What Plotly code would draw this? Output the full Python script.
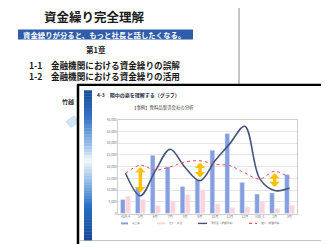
import plotly.graph_objects as go

# ---------------- data ----------------
months = ["H29/4", "5月", "6月", "7月", "8月", "9月", "10月", "11月", "12月", "H30/1", "2月", "3月"]
sales = [6000, 11200, 24800, 19900, 11500, 14500, 27000, 34100, 13300, 8300, 8800, 16700]
purchases = [7400, 6000, 3500, 5300, 8000, 10200, 4100, 2500, 2800, 5100, 2100, 3500]
cash = [17300, 7600, 18200, 27400, 19600, 14000, 22500, 29800, 37200, 14900, 9800, 10900]
loans = [17100, 20600, 18500, 19900, 22000, 22500, 21000, 20400, 17300, 14700, 18000, 15200]
gap_months = ["5月", "9月", "2月"]
y_ticks = list(range(0, 40001, 5000))
y_tick_labels = [f"{v:,}" for v in y_ticks]
series_names = ["売上高", "仕入・外注", "現預金（期首残高）", "借入（期首残高）"]

# ---------------- styles / page geometry ----------------
WIN_W, WIN_H, OFF = 329, 244, 8          # page body has an 8px default margin
W, H = WIN_W - OFF, WIN_H - OFF
C_SALES = "#859FE0"
C_PURCH = "#FFD3DA"
C_CASH = "#44557A"
C_LOAN = "#FF4B4B"
C_ARROW = "#FFC000"
JP = "Noto Sans CJK JP"


def px(x):
    return (x - OFF) / W


def py(y):
    return 1 - (y - OFF) / H


def text(t, x, y, size, color="#1a1a1a", xa="center", ya="middle", **kw):
    return dict(text=t, x=px(x), y=py(y), xref="paper", yref="paper", xanchor=xa, yanchor=ya,
                showarrow=False, font=dict(family=JP, size=size, color=color), **kw)


fig = go.Figure()
fig.add_trace(go.Bar(x=months, y=sales, name=series_names[0], marker_color=C_SALES))
fig.add_trace(go.Bar(x=months, y=purchases, name=series_names[1], marker_color=C_PURCH))
fig.add_trace(go.Scatter(x=months, y=cash, name=series_names[2], mode="lines",
                         line=dict(color=C_CASH, width=1.6, shape="spline", smoothing=1.0)))
fig.add_trace(go.Scatter(x=months, y=loans, name=series_names[3], mode="lines",
                         line=dict(color=C_LOAN, width=1.0, dash="dot", shape="spline", smoothing=1.0)))

shapes = []
annos = []

# background slide
shapes.append(dict(type="line", xref="paper", yref="paper", x0=px(239), x1=px(239), y0=py(0), y1=py(83),
                   line=dict(color="#8a8a8a", width=1), layer="below"))
shapes.append(dict(type="rect", xref="paper", yref="paper", x0=px(18), x1=px(193), y0=py(37), y1=py(27),
                   fillcolor="#2F5DAA", line=dict(width=0), layer="below"))
shapes.append(dict(type="path", xref="paper", yref="paper",
                   path=f"M {px(66)},{py(121)} L {px(74)},{py(115)} L {px(79)},{py(121)} L {px(71)},{py(127)} Z",
                   fillcolor="#CFE6F2", line=dict(color="#A9D0E6", width=0.5), layer="below"))

annos.append(text("<b>資金繰り完全理解</b>", 95, 13.5, 12.5))
annos.append(text("<b>資金繰りが分ると、もっと社長と話したくなる。</b>", 21, 32, 7.4, "white", xa="left"))
annos.append(text("<b>第1章</b>", 96, 47, 7.5))
annos.append(text("<b>1-1　金融機関における資金繰りの誤解</b>", 27, 63, 8.6, xa="left"))
annos.append(text("<b>1-2　金融機関における資金繰りの活用</b>", 27, 74, 8.6, xa="left"))
annos.append(text("<b>竹越</b>", 76, 100, 6, "#333", xa="right"))

# overlay slide
shapes.append(dict(type="rect", xref="paper", yref="paper", x0=px(78), x1=px(340), y0=py(250), y1=py(83),
                   fillcolor="white", line=dict(width=0), layer="below"))
shapes.append(dict(type="line", xref="paper", yref="paper", x0=px(80), x1=px(335), y0=py(242.5), y1=py(242.5),
                   line=dict(color="#c4c4c4", width=1), layer="below"))
shapes.append(dict(type="line", xref="paper", yref="paper", x0=px(77), x1=px(335), y0=py(83.5), y1=py(83.5),
                   line=dict(color="black", width=2.2), layer="below"))
shapes.append(dict(type="line", xref="paper", yref="paper", x0=px(78), x1=px(78), y0=py(83), y1=py(250),
                   line=dict(color="black", width=2.5), layer="below"))

# gradient side bar
stops = [(0.0, (28, 76, 150)), (0.18, (55, 115, 195)), (0.36, (150, 190, 230)), (0.47, (245, 248, 253)),
         (0.58, (165, 200, 235)), (0.78, (40, 110, 195)), (1.0, (25, 72, 150))]


def grad(t):
    for (t0, c0), (t1, c1) in zip(stops[:-1], stops[1:]):
        if t0 <= t <= t1:
            f = (t - t0) / (t1 - t0)
            return "rgb(%d,%d,%d)" % tuple(round(a + (b - a) * f) for a, b in zip(c0, c1))
    return "rgb(%d,%d,%d)" % stops[-1][1]


top, bot, nseg = 89, 242, 51
for i in range(nseg):
    y0 = top + (bot - top) * i / nseg
    y1 = top + (bot - top) * (i + 1) / nseg + 0.4
    shapes.append(dict(type="rect", xref="paper", yref="paper", x0=px(84), x1=px(92), y0=py(y1), y1=py(y0),
                       fillcolor=grad((i + 0.5) / nseg), line=dict(width=0), layer="below"))

annos.append(text("<b>4-3　期中の姿を理解する（グラフ）</b>", 95, 94, 5, "#2a2f45", xa="left"))
annos.append(text("【事例】食料品製造会社の分析", 163, 107, 4.4, "#444"))

# legend (manual)
leg = [(121, 128, C_SALES, "solid", 2.0, series_names[0]),
       (157, 165, C_PURCH, "solid", 2.0, series_names[1]),
       (198, 207, C_CASH, "solid", 1.4, series_names[2]),
       (249, 257, C_LOAN, "dot", 1.2, series_names[3])]
for x0, x1, c, d, w, name in leg:
    shapes.append(dict(type="line", xref="paper", yref="paper", x0=px(x0), x1=px(x1), y0=py(225), y1=py(225),
                       line=dict(color=c, width=w, dash=d)))
    annos.append(text(name, x1 + 1.5, 225, 2.6, "#777", xa="left"))

# gap arrows between cash and loans
for m in gap_months:
    i = months.index(m)
    annos.append(dict(text="", x=m, y=loans[i], ax=m, ay=cash[i], xref="x", yref="y", axref="x", ayref="y",
                      showarrow=True, arrowhead=1, startarrowhead=1, arrowside="end+start", arrowsize=0.5,
                      startarrowsize=0.5, arrowwidth=3.5, arrowcolor=C_ARROW, standoff=2, startstandoff=2))

fig.update_layout(
    width=W, height=H, margin=dict(l=0, r=0, t=0, b=0),
    paper_bgcolor="white", plot_bgcolor="rgba(0,0,0,0)",
    showlegend=False, barmode="group", bargap=0.3, bargroupgap=0.1,
    shapes=shapes, annotations=annos,
    xaxis=dict(domain=[px(118), px(297)], showgrid=False, showline=True, mirror=True, linecolor="#cfcfcf",
               linewidth=0.7, ticks="", tickangle=0, tickfont=dict(family=JP, size=3.2, color="#777"),
               fixedrange=True),
    yaxis=dict(domain=[py(215), py(119)], range=[0, 40000], tickvals=y_ticks, ticktext=y_tick_labels,
               showgrid=True, gridcolor="#e6e6e6", gridwidth=0.6, zeroline=False, showline=True, mirror=True,
               linecolor="#cfcfcf", linewidth=0.7, ticks="", tickfont=dict(family=JP, size=3.2, color="#777"),
               fixedrange=True),
)

fig.write_html("out.html")
